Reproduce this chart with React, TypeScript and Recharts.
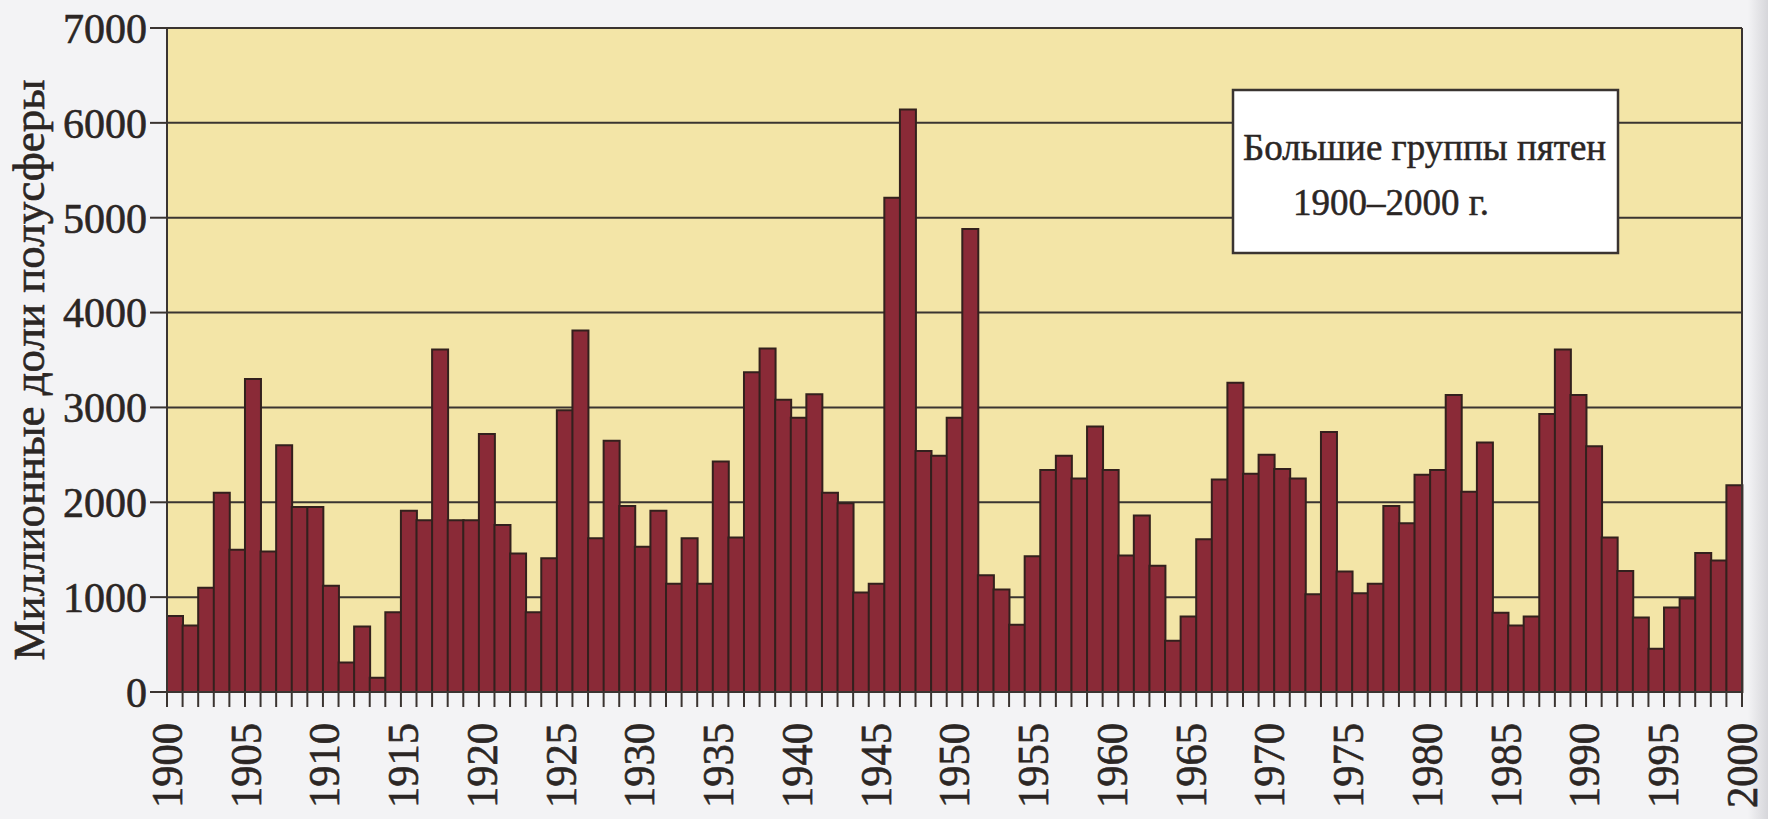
import React from "react";
import { Bar, BarChart, CartesianGrid, ReferenceLine, XAxis, YAxis } from "recharts";

// Large sunspot groups, area in millionths of a hemisphere, one bar per year
const years = Array.from({ length: 101 }, (_, i) => 1900 + i);

const groupArea = [
  800, 700, 1100, 2100, 1500, 3300, 1480, 2600, 1950, 1950,
  1120, 310, 690, 150, 840, 1910, 1810, 3610, 1810, 1810,
  2720, 1760, 1460, 840, 1410, 2970, 3810, 1620, 2650, 1960,
  1530, 1910, 1140, 1620, 1140, 2430, 1630, 3370, 3620, 3080,
  2890, 3140, 2100, 1990, 1050, 1140, 5210, 6140, 2540, 2490,
  2890, 4880, 1230, 1080, 710, 1430, 2340, 2490, 2250, 2800,
  2340, 1440, 1860, 1330, 540, 795, 1610, 2240, 3260, 2300,
  2500, 2350, 2250, 1030, 2740, 1270, 1040, 1140, 1960, 1780,
  2290, 2340, 3130, 2110, 2630, 835, 700, 795, 2930, 3610,
  3130, 2590, 1630, 1275, 785, 455, 890, 985, 1465, 1385,
  2180
];

const yTicks = [0, 1000, 2000, 3000, 4000, 5000, 6000, 7000];

const xLabels = [
  "1900", "1905", "1910", "1915", "1920", "1925", "1930", "1935", "1940", "1945", "1950",
  "1955", "1960", "1965", "1970", "1975", "1980", "1985", "1990", "1995", "2000"
];

const CHART_W = 1768;
const CHART_H = 819;
const MARGIN = { top: 28, right: 26, bottom: 0, left: 0 };
const X_AXIS_H = 127;
const PLOT_BOTTOM = CHART_H - MARGIN.bottom - X_AXIS_H;

const INK = "#2b2624";
const LINE = "#3a3431";
const FONT = "'Liberation Serif', 'DejaVu Serif', serif";

const data = years.map((year, i) => ({ year, slot: i + 0.5, value: groupArea[i] }));

// year labels are spread evenly from the left edge to the right edge
const labelSlots = xLabels.map((_, k) => (k * years.length) / (xLabels.length - 1));
const boundarySlots = Array.from({ length: years.length + 1 }, (_, i) => i);
const xTicks = Array.from(new Set([...boundarySlots, ...labelSlots])).sort((a, b) => a - b);

function renderXTick(props: any) {
  const { x, payload } = props;
  const v = payload.value as number;
  const k = labelSlots.findIndex((s) => Math.abs(s - v) < 1e-6);
  const ly = PLOT_BOTTOM + 31;
  return (
    <g>
      {Number.isInteger(v) && (
        <line x1={x} x2={x} y1={PLOT_BOTTOM} y2={PLOT_BOTTOM + 15} stroke={LINE} strokeWidth={2} />
      )}
      {k >= 0 && (
        <text
          transform={`translate(${x}, ${ly}) rotate(-90)`}
          textAnchor="end"
          dy="0.34em"
          fontSize={44}
          textLength={85}
          lengthAdjust="spacingAndGlyphs"
          fontFamily={FONT}
          fill={INK}
          stroke={INK}
          strokeWidth={0.6}
        >
          {xLabels[k]}
        </text>
      )}
    </g>
  );
}

export default function App() {
  return (
    <div
      style={{
        position: "absolute",
        left: 0,
        top: 0,
        width: CHART_W,
        height: CHART_H,
        background: "linear-gradient(to right, #f3f3f5 0, #f3f3f5 1748px, #d6d6da 1768px)",
        overflow: "hidden"
      }}
    >
      <BarChart
        width={CHART_W}
        height={CHART_H}
        data={data}
        margin={MARGIN}
        barCategoryGap={0}
        barGap={0}
      >
        <CartesianGrid vertical={false} stroke={LINE} strokeWidth={2} fill="#f3e5a7" fillOpacity={1} />
        <XAxis
          type="number"
          dataKey="slot"
          domain={[0, years.length]}
          ticks={xTicks}
          interval={0}
          tickLine={false}
          axisLine={{ stroke: LINE, strokeWidth: 2 }}
          tick={renderXTick}
          height={X_AXIS_H}
        />
        <YAxis
          type="number"
          domain={[0, 7000]}
          ticks={yTicks}
          interval={0}
          width={167}
          tickSize={17}
          tickMargin={3}
          tickLine={{ stroke: LINE, strokeWidth: 2 }}
          axisLine={{ stroke: LINE, strokeWidth: 2 }}
          tick={{ fontSize: 42, fill: INK, fontFamily: FONT, stroke: INK, strokeWidth: 0.6 }}
        />
        <ReferenceLine x={years.length} stroke={LINE} strokeWidth={2} />
        <Bar dataKey="value" fill="#8a2a37" stroke="#33201d" strokeWidth={2} isAnimationActive={false} />
      </BarChart>

      <svg
        width={CHART_W}
        height={CHART_H}
        style={{ position: "absolute", left: 0, top: 0, pointerEvents: "none" }}
      >
        <text
          transform="translate(29, 370) rotate(-90)"
          textAnchor="middle"
          dy="0.34em"
          fontSize={45}
          fontFamily={FONT}
          fill={INK}
          stroke={INK}
          strokeWidth={0.6}
        >
          Миллионные доли полусферы
        </text>
        <rect x={1233} y={90} width={385} height={163} fill="#ffffff" stroke={LINE} strokeWidth={2.5} />
        <text x={1243} y={160} fontSize={37} fontFamily={FONT} fill={INK} stroke={INK} strokeWidth={0.5}>
          Большие группы пятен
        </text>
        <text x={1293} y={215} fontSize={37} fontFamily={FONT} fill={INK} stroke={INK} strokeWidth={0.5}>
          1900–2000 г.
        </text>
      </svg>
    </div>
  );
}
